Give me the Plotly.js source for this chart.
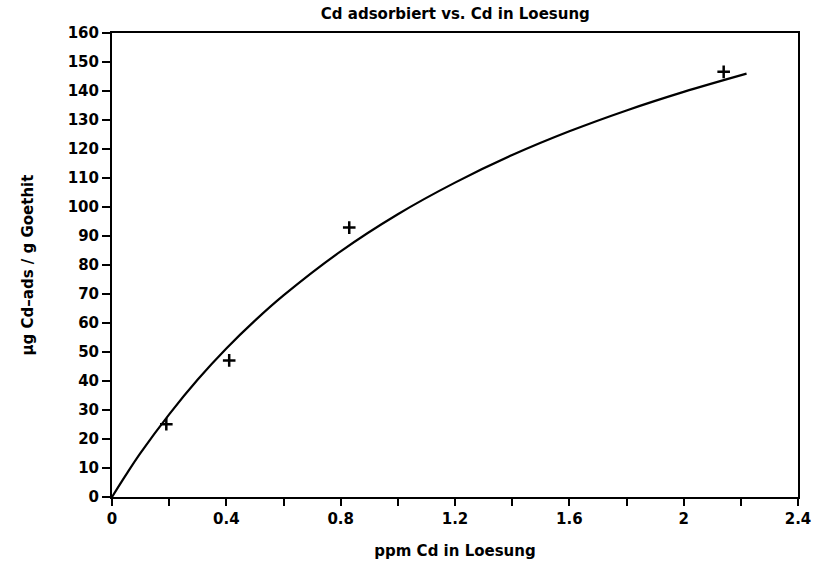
<!DOCTYPE html>
<html>
<head>
<meta charset="utf-8">
<script src="https://cdn.plot.ly/plotly-3.0.1.min.js"></script>
<style>html,body{margin:0;padding:0;background:#fff;}#chart{width:819px;height:563px;}</style>
</head>
<body>
<div id="chart"></div>
<script>
// Measured points
const pointX = [0.19, 0.41, 0.83, 2.14];
const pointY = [25.1, 47.1, 92.9, 146.6];

// Fitted curve
const curveX = [0, 0.05, 0.1, 0.2, 0.3, 0.4, 0.5, 0.6, 0.8, 1.0, 1.2, 1.4, 1.6, 1.8, 2.0, 2.22];
const curveY = [0, 7.8, 15.2, 28.5, 40.5, 51.2, 60.8, 69.5, 84.7, 97.5, 108.4, 117.9, 126.1, 133.3, 139.7, 146.0];

const titleText = "Cd adsorbiert vs. Cd in Loesung";
const xTitle = "ppm Cd in Loesung";
const yTitle = "µg Cd\u2013ads / g Goethit";

const fnt = {family: "DejaVu Sans, sans-serif", size: 15, color: "#000", weight: "bold"};
const tfnt = {family: "DejaVu Sans, sans-serif", size: 15, color: "#000", weight: "bold"};

const traces = [
  {x: curveX, y: curveY, mode: "lines", type: "scatter", line: {color: "#000", width: 2.2, shape: "spline"}, hoverinfo: "skip"},
  {x: pointX, y: pointY, mode: "markers", type: "scatter", marker: {symbol: "cross-thin", size: 9, color: "#000", line: {color: "#000", width: 2.5}}}
];

const layout = {
  width: 819, height: 563,
  margin: {l: 112, r: 21, t: 33, b: 66},
  paper_bgcolor: "#fff", plot_bgcolor: "#fff",
  showlegend: false,
  font: fnt,
  title: {text: titleText, font: fnt, x: 0.556, xanchor: "center", y: 0.975, yanchor: "middle"},
  xaxis: {
    range: [0, 2.4], dtick: 0.4, tick0: 0, showgrid: false, zeroline: false,
    showline: true, linecolor: "#000", linewidth: 2, mirror: true,
    ticks: "outside", ticklen: 7, tickwidth: 2, tickcolor: "#000",
    minor: {dtick: 0.2, ticks: "outside", ticklen: 7, tickwidth: 2, tickcolor: "#000", showgrid: false},
    tickfont: tfnt,
    title: {text: xTitle, font: fnt, standoff: 18}
  },
  yaxis: {
    range: [0, 160], dtick: 10, tick0: 0, showgrid: false, zeroline: false,
    showline: true, linecolor: "#000", linewidth: 2, mirror: true,
    ticks: "outside", ticklen: 8, tickwidth: 2, tickcolor: "#000",
    tickfont: tfnt,
    title: {text: yTitle, font: fnt, standoff: 30}
  }
};

Plotly.newPlot("chart", traces, layout, {displayModeBar: false, staticPlot: true});
</script>
</body>
</html>
